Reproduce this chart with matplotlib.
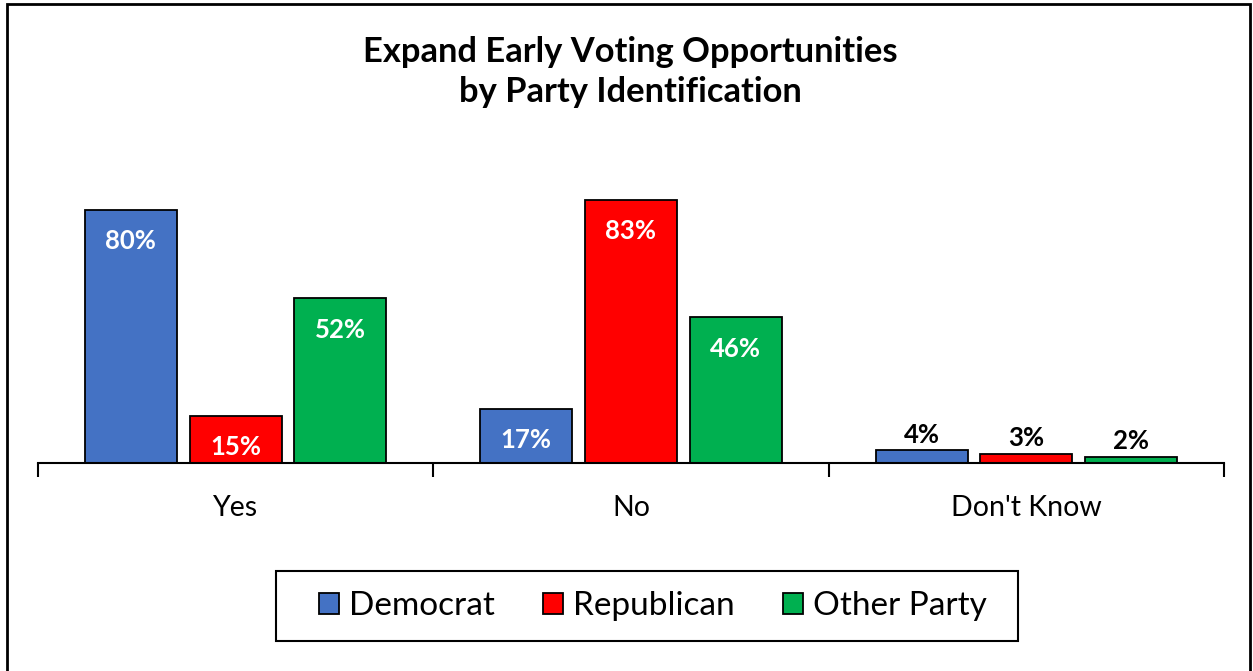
import matplotlib.pyplot as plt
import numpy as np
from matplotlib.patches import Rectangle

plt.rcParams["font.family"] = ["Lato", "DejaVu Sans"]

categories = ["Yes", "No", "Don't Know"]
parties = ["Democrat", "Republican", "Other Party"]
democrat = [80, 17, 4]
republican = [15, 83, 3]
other_party = [52, 46, 2]
colors = ["#4472C4", "#FF0000", "#00B050"]

W, H = 1253, 671
fig = plt.figure(figsize=(W / 100, H / 100), dpi=100)
ax = fig.add_axes([38 / W, 208 / H, 1186 / W, 285 / H])

x = np.arange(len(categories))
width = 0.233
offsets = [-0.265, 0, 0.265]
series = [democrat, republican, other_party]

for vals, off, col, name in zip(series, offsets, colors, parties):
    bars = ax.bar(x + off, vals, width, color=col, edgecolor="black",
                  linewidth=1.3, label=name)
    for b, v in zip(bars, vals):
        cx = b.get_x() + b.get_width() / 2
        # big bars get a white label inside, small ones a black label above
        if v >= 10:
            ax.annotate(f"{v}%", (cx, v), xytext=(0, -22.5), textcoords="offset points",
                        ha="center", va="center", color="white", fontsize=18.5,
                        fontweight="bold")
        else:
            ax.annotate(f"{v}%", (cx, v), xytext=(0, 11), textcoords="offset points",
                        ha="center", va="center", color="black", fontsize=18.5,
                        fontweight="bold")

ax.set_xlim(-0.5, 2.5)
ax.set_ylim(0, 90)
for s in ["top", "right", "left"]:
    ax.spines[s].set_visible(False)
ax.spines["bottom"].set_linewidth(1.5)
ax.set_yticks([])
ax.set_xticks([-0.5, 0.5, 1.5, 2.5])
ax.set_xticklabels([])
ax.set_xticks(x, minor=True)
ax.set_xticklabels(categories, minor=True, fontsize=20.5)
ax.tick_params(axis="x", which="major", length=10, width=1.5, direction="out")
ax.tick_params(axis="x", which="minor", length=0, pad=23)

fig.text(0.503, 1 - 72 / H, "Expand Early Voting Opportunities\nby Party Identification",
         ha="center", va="center", fontsize=24.8, fontweight="bold", linespacing=1.3)

leg = fig.legend(loc="center", bbox_to_anchor=(653 / W, 1 - 606 / H), ncol=3,
                 fontsize=24, frameon=False, handlelength=0.6, handleheight=0.6,
                 handletextpad=0.3, columnspacing=1.45, borderpad=0.2)
for h in leg.legend_handles:
    h.set_linewidth(1.3)

fig.patches.append(Rectangle((276 / W, 1 - 641 / H), 742 / W, 70 / H,
                             transform=fig.transFigure, fill=False,
                             edgecolor="black", linewidth=1.5))
fig.patches.append(Rectangle((7 / W, -0.05), 1243 / W, 1.05 - 4 / H,
                             transform=fig.transFigure, fill=False,
                             edgecolor="black", linewidth=2))

fig.savefig("out.png", dpi=100)
